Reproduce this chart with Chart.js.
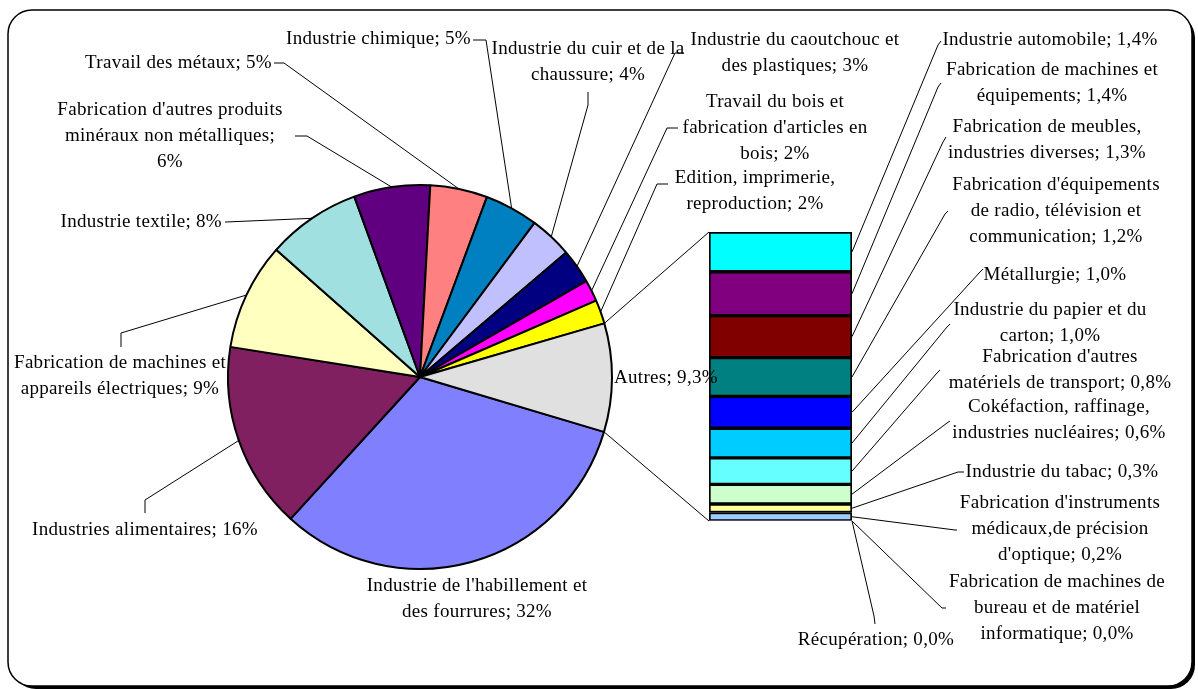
<!DOCTYPE html>
<html>
<head>
<meta charset="utf-8">
<script src="https://cdn.jsdelivr.net/npm/chart.js@4"></script>
<style>
  html, body { margin: 0; padding: 0; background: #fff; }
  #wrap { position: relative; width: 1198px; height: 689px; }
  #wrap canvas { position: absolute; left: 0; top: 0; }
</style>
</head>
<body>
<div id="wrap">
  <canvas id="pie" width="1198" height="689"></canvas>
  <canvas id="bar" width="1198" height="689"></canvas>
</div>
<script>
// main pie: share of each branch (%)
const pieNames = [
  "Industrie de l'habillement et des fourrures",
  "Industries alimentaires",
  "Fabrication de machines et appareils électriques",
  "Industrie textile",
  "Fabrication d'autres produits minéraux non métalliques",
  "Travail des métaux",
  "Industrie chimique",
  "Industrie du cuir et de la chaussure",
  "Industrie du caoutchouc et des plastiques",
  "Travail du bois et fabrication d'articles en bois",
  "Edition, imprimerie, reproduction",
  "Autres"
];
const pieValues = [32.1, 15.7, 9.0, 7.9, 6.4, 4.8, 4.5, 3.6, 2.9, 1.8, 2.0, 9.1];
const pieShown = ["32%", "16%", "9%", "8%", "6%", "5%", "5%", "4%", "3%", "2%", "2%", "9,3%"];
const pieColors = ["#8080FF", "#802060", "#FFFFC0", "#A0E0E0", "#600080", "#FF8080",
                   "#0080C0", "#C0C0FF", "#000080", "#FF00FF", "#FFFF00", "#E0E0E0"];

// "Autres" split, top to bottom of the bar
const barNames = [
  "Industrie automobile",
  "Fabrication de machines et équipements",
  "Fabrication de meubles, industries diverses",
  "Fabrication d'équipements de radio, télévision et communication",
  "Métallurgie",
  "Industrie du papier et du carton",
  "Fabrication d'autres matériels de transport",
  "Cokéfaction, raffinage, industries nucléaires",
  "Industrie du tabac",
  "Fabrication d'instruments médicaux,de précision d'optique",
  "Fabrication de machines de bureau et de matériel informatique",
  "Récupération"
];
const barValues = [1.26, 1.39, 1.33, 1.23, 1.01, 0.94, 0.84, 0.62, 0.27, 0.27, 0.0, 0.0];
const barShown = ["1,4%", "1,4%", "1,3%", "1,2%", "1,0%", "1,0%", "0,8%", "0,6%", "0,3%", "0,2%", "0,0%", "0,0%"];
const barColors = ["#00FFFF", "#800080", "#800000", "#008080", "#0000FF", "#00CCFF",
                   "#66FFFF", "#CCFFCC", "#FFFF99", "#99CCFF", "#FF8080", "#CCCCFF"];

// label placement (wrap = word counts per line)
const pieLayout = [
  { x: 477, y: 586, wrap: [4] },
  { x: 145, y: 530, leader: [[145, 513], [145, 500]] },
  { x: 120, y: 363, wrap: [4], leader: [[121, 347], [121, 333]] },
  { x: 222, y: 222, align: 'right', leader: [[225, 222], [226, 222]] },
  { x: 170, y: 110, wrap: [3, 3], leader: [[295, 136], [307, 136]] },
  { x: 272, y: 63, align: 'right', leader: [[274, 63], [284, 63]] },
  { x: 471, y: 39, align: 'right', leader: [[473, 40], [486, 40]] },
  { x: 588, y: 49, wrap: [6], leader: [[588, 92], [588, 105]] },
  { x: 795, y: 40, wrap: [4], leader: [[684, 53], [675, 53]] },
  { x: 775, y: 102, wrap: [4, 3], leader: [[678, 128], [667, 128]] },
  { x: 755, y: 178, wrap: [2], leader: [[668, 184], [657, 184]] },
  { x: 614, y: 378, align: 'left' }
];
const barLayout = [
  { x: 1050, y: 40, leader: [[941, 41], [938, 45]] },
  { x: 1052, y: 70, wrap: [4], leader: [[941, 83], [938, 87]] },
  { x: 1047, y: 127, wrap: [3], leader: [[946, 137], [943, 142]] },
  { x: 1056, y: 185, wrap: [2, 4], leader: [[948, 211], [945, 214]] },
  { x: 1055, y: 275, leader: [[983, 269], [980, 272]] },
  { x: 1050, y: 310, wrap: [5], leader: [[950, 324], [947, 327]] },
  { x: 1060, y: 357, wrap: [2], leader: [[940, 370], [937, 373]] },
  { x: 1059, y: 407, wrap: [2], leader: [[950, 421], [947, 423]] },
  { x: 1062, y: 472, leader: [[964, 472], [958, 472]] },
  { x: 1060, y: 503, wrap: [2, 2], leader: [[957, 530], [955, 530]] },
  { x: 1057, y: 582, wrap: [4, 4], leader: [[946, 608], [942, 608]] },
  { x: 876, y: 640, leader: [[875, 624], [874, 616]] }
];

const FONT = '19px "Liberation Serif", "Times New Roman", serif';
const LINE_H = 26;

function splitLines(text, wrap) {
  const words = text.split(' ');
  if (!wrap) return [text];
  const out = [];
  let k = 0;
  wrap.forEach(n => { out.push(words.slice(k, k + n).join(' ')); k += n; });
  out.push(words.slice(k).join(' '));
  return out;
}

function drawLabel(ctx, text, lay, target) {
  ctx.font = FONT;
  ctx.letterSpacing = '0.3px';
  ctx.fillStyle = '#000';
  ctx.textBaseline = 'middle';
  ctx.textAlign = lay.align || 'center';
  splitLines(text, lay.wrap).forEach((ln, j) => ctx.fillText(ln, lay.x, lay.y + j * LINE_H));
  if (lay.leader && target) {
    ctx.beginPath();
    ctx.moveTo(lay.leader[0][0], lay.leader[0][1]);
    ctx.lineTo(lay.leader[1][0], lay.leader[1][1]);
    ctx.lineTo(target[0], target[1]);
    ctx.strokeStyle = '#000';
    ctx.lineWidth = 1;
    ctx.stroke();
  }
}

const framePlugin = {
  id: 'frame',
  beforeDraw(chart) {
    const ctx = chart.ctx;
    ctx.save();
    ctx.fillStyle = '#000';
    ctx.beginPath();
    ctx.roundRect(12, 14, 1183, 675, 24);
    ctx.fill();
    ctx.fillStyle = '#fff';
    ctx.beginPath();
    ctx.roundRect(8, 10, 1184, 676, 24);
    ctx.fill();
    ctx.strokeStyle = '#000';
    ctx.lineWidth = 1.5;
    ctx.stroke();
    ctx.restore();
  }
};

const pieChart = new Chart(document.getElementById('pie'), {
  type: 'pie',
  data: {
    labels: pieNames,
    datasets: [{
      data: pieValues,
      backgroundColor: pieColors,
      borderColor: '#000',
      borderWidth: 2,
      hoverOffset: 0
    }]
  },
  options: {
    responsive: false,
    animation: false,
    devicePixelRatio: 1,
    rotation: 106.6,
    layout: { padding: { left: 227, right: 585, top: 184, bottom: 119 } },
    plugins: { legend: { display: false }, tooltip: { enabled: false } }
  },
  plugins: [framePlugin]
});

const nBar = barValues.length;
const barTotal = barValues.reduce((a, b) => a + b, 0);

const labelPlugin = {
  id: 'labels',
  afterDraw(chart) {
    const ctx = chart.ctx;
    ctx.save();
    const arcs = pieChart.getDatasetMeta(0).data;
    const arcPoint = (el, ang) => {
      const p = el.getProps(['x', 'y', 'outerRadius'], true);
      return [p.x + Math.cos(ang) * p.outerRadius, p.y + Math.sin(ang) * p.outerRadius];
    };
    // slice labels
    pieNames.forEach((name, i) => {
      const el = arcs[i];
      const p = el.getProps(['startAngle', 'endAngle'], true);
      const target = arcPoint(el, (p.startAngle + p.endAngle) / 2);
      drawLabel(ctx, name + '; ' + pieShown[i], pieLayout[i], target);
    });
    // bar segments: dataset k holds barValues[nBar - 1 - k]
    const seg = i => chart.getDatasetMeta(nBar - 1 - i).data[0];
    barNames.forEach((name, i) => {
      const b = seg(i).getProps(['x', 'y', 'base', 'width'], true);
      const target = [b.x + b.width / 2, (b.y + b.base) / 2];
      drawLabel(ctx, name + '; ' + barShown[i], barLayout[i], target);
    });
    // connectors pie -> bar
    const last = arcs[arcs.length - 1];
    const autres = last.getProps(['startAngle', 'endAngle'], true);
    const top = seg(0).getProps(['x', 'y', 'width'], true);
    const bot = seg(nBar - 1).getProps(['x', 'base', 'width'], true);
    const p1 = arcPoint(last, autres.startAngle);
    const p2 = arcPoint(last, autres.endAngle);
    ctx.strokeStyle = '#000';
    ctx.lineWidth = 1;
    ctx.beginPath();
    ctx.moveTo(p1[0], p1[1]);
    ctx.lineTo(top.x - top.width / 2, top.y);
    ctx.moveTo(p2[0], p2[1]);
    ctx.lineTo(bot.x - bot.width / 2, bot.base);
    ctx.stroke();
    ctx.restore();
  }
};

const barDatasets = [];
for (let k = 0; k < nBar; k++) {
  const i = nBar - 1 - k;
  barDatasets.push({
    label: barNames[i],
    data: [barValues[i]],
    backgroundColor: barColors[i],
    borderColor: '#000',
    borderWidth: barValues[i] > 0 ? 2 : 0,
    borderSkipped: false
  });
}

const barChart = new Chart(document.getElementById('bar'), {
  type: 'bar',
  data: { labels: [''], datasets: barDatasets },
  options: {
    responsive: false,
    animation: false,
    devicePixelRatio: 1,
    barPercentage: 1,
    categoryPercentage: 1,
    layout: { padding: { left: 709, right: 346, top: 232, bottom: 168 } },
    plugins: { legend: { display: false }, tooltip: { enabled: false } },
    scales: {
      x: { display: false, stacked: true },
      y: { display: false, stacked: true, min: 0, max: barTotal }
    }
  },
  plugins: [labelPlugin]
});
</script>
</body>
</html>
